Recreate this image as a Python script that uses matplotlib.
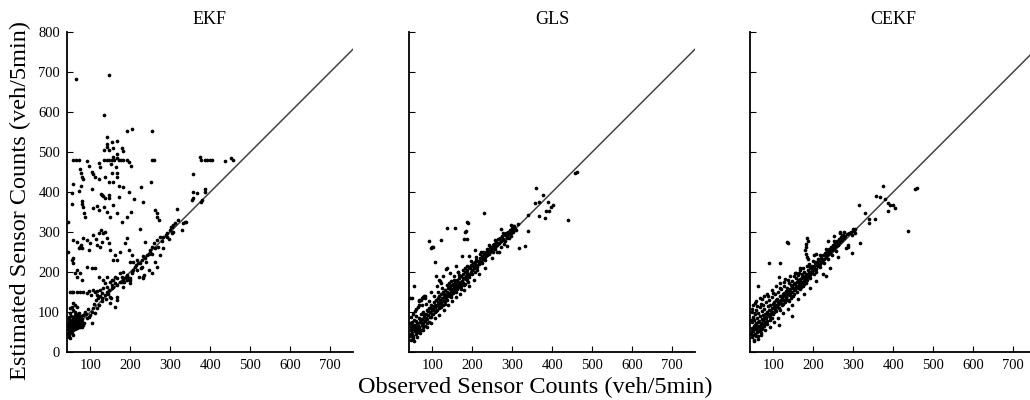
import numpy as np
import matplotlib
matplotlib.use("Agg")
import matplotlib.pyplot as plt

plt.rcParams['font.family'] = ['Liberation Serif', 'DejaVu Serif']

# (observed, estimated) pairs
ekf_pts = [
    (64, 682), (146, 692), (135, 592), (192, 553), (204, 557), (254, 553),
    (143, 537), (167, 528), (154, 524), (143, 520), (142, 513), (135, 505),
    (146, 505), (158, 509), (179, 509), (183, 503), (58, 480), (64, 480),
    (71, 480), (135, 480), (142, 480), (147, 480), (154, 480), (160, 480),
    (171, 480), (177, 480), (183, 480), (192, 480), (254, 480), (260, 480),
    (377, 480), (387, 480), (393, 480), (400, 480), (404, 480), (437, 478),
    (375, 487), (452, 485), (458, 480), (93, 478), (96, 465), (121, 473),
    (125, 463), (152, 470), (165, 463), (196, 476), (202, 465), (168, 484),
    (168, 494), (157, 488), (75, 457), (77, 447), (79, 438), (81, 432),
    (104, 451), (108, 445), (112, 438), (121, 432), (137, 438), (154, 447),
    (168, 448), (168, 438), (157, 426), (146, 426), (171, 415), (183, 412),
    (227, 413), (252, 426), (198, 401), (56, 420), (54, 398), (77, 415),
    (73, 403), (104, 407), (128, 395), (132, 390), (146, 384), (356, 445),
    (358, 401), (367, 397), (387, 407), (54, 370), (79, 370), (79, 378),
    (82, 363), (88, 338), (85, 347), (117, 365), (121, 355), (108, 359),
    (129, 392), (137, 384), (135, 363), (142, 351), (150, 338), (167, 347),
    (158, 367), (171, 388), (146, 392), (179, 326), (192, 338), (202, 351),
    (210, 382), (233, 376), (225, 307), (262, 355), (267, 347), (268, 338),
    (271, 330), (317, 357), (337, 326), (329, 305), (308, 318), (45, 326),
    (45, 251), (58, 280), (67, 276), (75, 263), (71, 259), (79, 259),
    (77, 267), (83, 284), (92, 280), (100, 272), (96, 255), (108, 292),
    (115, 282), (117, 267), (125, 263), (129, 276), (121, 297), (127, 305),
    (132, 297), (137, 301), (142, 284), (146, 272), (150, 255), (158, 230),
    (162, 242), (175, 251), (187, 272), (192, 284), (196, 255), (200, 226),
    (204, 242), (208, 226), (217, 230), (229, 212), (237, 276), (250, 251),
    (246, 205), (254, 197), (262, 226), (267, 213), (275, 242), (283, 259),
    (293, 287), (308, 301), (333, 323), (54, 230), (57, 222), (58, 234),
    (67, 205), (62, 197), (75, 197), (79, 180), (68, 188), (92, 213),
    (104, 209), (112, 209), (121, 188), (133, 180), (142, 188), (154, 180),
    (162, 188), (175, 197), (183, 201), (192, 192), (200, 184), (204, 201),
    (50, 150), (54, 150), (58, 150), (67, 150), (75, 150), (83, 150),
    (92, 147), (98, 153), (102, 142), (108, 155), (117, 142), (125, 155),
    (129, 147), (133, 159), (137, 172), (142, 163), (150, 176), (154, 167),
    (158, 180), (162, 172), (168, 184), (175, 176), (179, 188), (183, 180),
    (187, 184), (192, 190), (200, 180), (204, 197), (212, 213), (217, 205),
    (225, 222), (229, 230), (237, 234), (242, 242), (250, 255), (254, 263),
    (260, 272), (267, 280), (275, 288), (283, 288), (292, 297), (300, 305),
    (304, 313), (304, 297), (312, 322), (354, 380), (358, 384), (377, 376),
    (379, 380), (387, 401), (150, 138), (158, 163), (168, 138), (183, 163),
    (200, 172), (221, 188), (233, 188), (168, 230), (152, 134), (129, 134),
    (137, 142), (143, 151), (154, 159), (167, 167), (179, 176), (192, 180),
    (150, 122), (162, 113), (167, 130), (43, 63), (46, 51), (48, 42),
    (50, 34), (54, 47), (58, 63), (62, 72), (67, 59), (71, 67), (75, 63),
    (79, 76), (83, 67), (68, 80), (58, 88), (50, 97), (54, 80), (65, 87),
    (75, 84), (46, 76), (50, 63), (58, 55), (67, 72), (73, 80), (79, 63),
    (85, 73), (50, 109), (54, 113), (58, 122), (62, 117), (92, 84), (96, 88),
    (100, 92), (104, 101), (108, 109), (112, 97), (117, 109), (121, 117),
    (104, 72), (58, 105), (62, 92), (70, 90), (77, 70), (64, 65), (52, 70),
    (60, 78), (72, 62), (48, 88), (56, 42), (66, 95), (82, 92), (88, 98),
    (110, 120), (115, 130), (120, 135), (125, 140), (130, 128), (112, 150),
    (116, 152), (140, 132), (145, 146), (148, 155), (185, 176), (195, 185),
    (208, 205), (214, 218), (220, 222), (226, 210), (231, 240), (240, 226),
    (246, 246), (255, 245), (262, 260), (270, 262), (280, 278), (290, 293),
    (296, 282), (302, 312), (320, 330), (340, 325), (235, 192), (231, 186),
    (44, 70), (45, 58), (47, 82), (49, 66), (51, 55), (53, 90), (55, 72),
    (57, 60), (59, 84), (61, 68), (63, 58), (65, 76), (67, 88), (69, 64),
    (71, 78), (73, 70), (76, 90), (78, 68), (80, 82), (62, 80), (56, 66),
    (66, 70), (70, 84), (74, 74), (52, 78), (60, 72), (44, 45), (47, 38),
    (63, 100), (72, 98), (68, 112), (86, 100), (90, 95), (94, 108),
]

gls_pts = [
    (456, 448), (462, 451), (360, 409), (377, 392), (356, 373), (368, 374),
    (389, 376), (402, 367), (397, 362), (385, 353), (391, 353), (368, 340),
    (382, 334), (439, 330), (339, 342), (339, 303), (332, 265), (318, 259),
    (271, 307), (302, 315), (306, 307), (229, 348), (156, 311), (137, 309),
    (187, 326), (189, 322), (185, 303), (181, 299), (187, 282), (179, 282),
    (121, 280), (91, 277), (97, 259), (100, 262), (175, 241), (192, 240),
    (206, 255), (106, 226), (137, 209), (164, 201), (110, 190), (118, 180),
    (122, 173), (54, 166), (49, 136), (81, 140), (66, 130), (77, 137),
    (74, 136), (79, 141), (66, 128), (45, 134), (102, 263), (135, 207),
    (45, 40), (47, 55), (48, 70), (50, 48), (52, 62), (53, 35), (55, 80),
    (56, 52), (58, 66), (60, 45), (60, 90), (62, 58), (63, 72), (65, 50),
    (66, 85), (68, 62), (70, 75), (71, 95), (72, 55), (74, 68), (75, 82),
    (77, 100), (78, 72), (80, 88), (82, 65), (83, 78), (85, 95), (86, 105),
    (88, 82), (90, 92), (92, 110), (93, 75), (95, 100), (97, 88), (98, 118),
    (100, 105), (102, 95), (104, 115), (105, 125), (107, 100), (108, 112),
    (110, 130), (112, 118), (113, 105), (115, 125), (117, 140), (118, 115),
    (120, 130), (122, 122), (123, 145), (125, 135), (127, 118), (128, 150),
    (130, 138), (132, 128), (133, 155), (135, 142), (137, 130), (138, 150),
    (140, 160), (142, 140), (143, 148), (145, 165), (147, 150), (148, 138),
    (150, 158), (152, 170), (153, 148), (155, 162), (157, 175), (158, 155),
    (160, 168), (162, 158), (163, 180), (165, 170), (167, 162), (168, 185),
    (170, 175), (172, 165), (173, 190), (175, 178), (177, 172), (178, 195),
    (180, 185), (182, 170), (183, 200), (185, 190), (187, 180), (188, 205),
    (190, 195), (192, 188), (195, 210), (197, 200), (200, 205), (202, 215),
    (205, 210), (207, 225), (210, 218), (212, 212), (215, 228), (218, 222),
    (220, 235), (222, 228), (225, 240), (228, 232), (230, 245), (233, 238),
    (235, 250), (238, 242), (240, 255), (243, 248), (245, 262), (248, 255),
    (250, 260), (252, 250), (255, 270), (258, 262), (260, 275), (263, 268),
    (265, 282), (268, 272), (270, 285), (272, 278), (275, 290), (278, 282),
    (280, 270), (283, 292), (285, 298), (288, 290), (290, 300), (293, 285),
    (295, 305), (298, 298), (300, 310), (302, 300), (305, 315), (310, 305),
    (315, 320), (46, 62), (47, 45), (49, 58), (50, 75), (51, 40), (54, 68),
    (57, 58), (59, 78), (61, 50), (64, 65), (67, 58), (69, 82), (73, 78),
    (76, 62), (79, 92), (84, 86), (87, 72), (89, 102), (94, 88), (96, 110),
    (99, 95), (103, 108), (106, 118), (109, 102), (114, 135), (116, 110),
    (119, 120), (121, 112), (126, 128), (129, 145), (131, 120), (134, 136),
    (139, 145), (141, 172), (144, 158), (146, 142), (149, 168), (151, 150),
    (154, 180), (156, 165), (159, 150), (161, 178), (164, 164), (166, 192),
    (169, 170), (171, 158), (176, 185), (179, 168), (181, 210), (184, 182),
    (186, 198), (189, 176), (191, 212), (194, 196), (196, 218), (199, 195),
    (203, 222), (206, 200), (209, 230), (213, 205), (216, 220), (219, 245),
    (224, 222), (227, 250), (232, 230), (236, 258), (241, 245), (246, 252),
    (251, 268), (256, 258), (261, 250), (266, 272), (271, 262), (276, 280),
    (282, 278), (287, 285), (292, 295), (297, 290), (301, 302), (304, 308),
    (44, 72), (46, 88), (48, 30), (52, 95), (55, 28), (58, 102), (62, 38),
    (65, 112), (70, 48), (74, 118), (78, 55), (84, 120), (88, 62), (93, 128),
    (98, 72), (104, 140), (108, 85), (114, 150), (118, 92), (124, 160),
    (130, 105), (136, 168), (140, 118), (146, 178), (150, 128), (155, 190),
    (160, 138), (165, 200), (170, 145), (176, 205), (180, 155), (186, 215),
    (192, 165), (198, 228), (204, 180), (210, 238), (216, 195), (222, 250),
    (232, 210), (242, 268), (250, 235), (258, 280), (268, 250), (276, 298),
    (286, 265), (296, 318), (60, 108), (68, 118), (72, 130), (82, 135),
    (96, 150), (112, 165), (120, 178), (128, 190), (145, 198), (160, 215),
]

cekf_pts = [
    (454, 407), (460, 411), (375, 415), (358, 390), (367, 388), (379, 382),
    (387, 373), (393, 367), (400, 367), (404, 359), (387, 353), (315, 367),
    (329, 347), (340, 332), (354, 332), (340, 323), (438, 302), (317, 273),
    (300, 307), (304, 297), (296, 292), (185, 286), (186, 278), (183, 270),
    (182, 263), (179, 255), (135, 276), (136, 272), (90, 223), (118, 222),
    (62, 166), (114, 188), (167, 209), (158, 198), (252, 291), (237, 278),
    (268, 297), (269, 280), (283, 259), (288, 263), (296, 248), (232, 190),
    (202, 243), (208, 245), (204, 226), (192, 213), (171, 188), (146, 90),
    (114, 68), (54, 122), (73, 132), (48, 101), (181, 245), (184, 238),
    (186, 232), (268, 300), (272, 290), (301, 305), (303, 302), (305, 308),
    (45, 45), (46, 60), (47, 75), (48, 38), (49, 88), (50, 52), (51, 66),
    (52, 30), (53, 80), (54, 95), (55, 45), (56, 58), (57, 72), (58, 105),
    (59, 50), (60, 85), (61, 65), (62, 40), (63, 98), (64, 55), (65, 78),
    (66, 112), (67, 62), (68, 90), (69, 48), (70, 72), (71, 102), (72, 82),
    (73, 60), (74, 118), (75, 92), (76, 70), (77, 85), (78, 108), (79, 75),
    (80, 95), (82, 125), (83, 88), (84, 100), (85, 78), (86, 115), (88, 95),
    (89, 130), (90, 105), (92, 88), (93, 118), (95, 102), (96, 138), (98, 110),
    (100, 95), (101, 125), (103, 112), (104, 145), (106, 118), (108, 102),
    (109, 132), (111, 120), (112, 150), (114, 110), (115, 128), (117, 140),
    (118, 122), (120, 158), (121, 135), (123, 118), (124, 145), (126, 130),
    (127, 165), (129, 140), (130, 125), (132, 152), (133, 138), (135, 160),
    (136, 130), (138, 148), (139, 172), (141, 142), (142, 158), (144, 135),
    (145, 168), (147, 150), (148, 178), (150, 160), (151, 145), (153, 170),
    (154, 155), (156, 185), (157, 165), (159, 150), (160, 175), (162, 160),
    (163, 192), (165, 172), (166, 158), (168, 182), (169, 168), (171, 195),
    (172, 175), (174, 165), (175, 188), (177, 178), (178, 200), (180, 185),
    (181, 172), (183, 195), (184, 180), (186, 205), (188, 190), (190, 200),
    (192, 185), (194, 210), (196, 198), (198, 215), (200, 205), (202, 195),
    (205, 218), (207, 208), (210, 225), (212, 215), (215, 228), (218, 220),
    (220, 235), (222, 228), (225, 242), (228, 232), (230, 248), (233, 240),
    (235, 252), (238, 245), (240, 258), (243, 250), (245, 262), (248, 255),
    (250, 268), (253, 260), (255, 272), (258, 265), (260, 278), (263, 270),
    (265, 282), (268, 275), (270, 288), (273, 280), (275, 292), (278, 285),
    (280, 290), (285, 295), (290, 298), (295, 300), (47, 52), (49, 42),
    (52, 58), (55, 68), (57, 40), (60, 62), (63, 75), (66, 52), (69, 68),
    (72, 58), (75, 80), (78, 65), (81, 85), (84, 70), (87, 95), (91, 80),
    (94, 95), (97, 85), (99, 120), (102, 100), (105, 108), (107, 130),
    (110, 112), (113, 125), (116, 105), (119, 130), (122, 140), (125, 120),
    (128, 148), (131, 132), (134, 145), (137, 155), (140, 128), (143, 150),
    (146, 162), (149, 140), (152, 158), (155, 172), (158, 162), (161, 180),
    (164, 168), (167, 178), (170, 162), (173, 185), (176, 170), (179, 190),
    (182, 178), (185, 188), (189, 198), (193, 192), (197, 205), (201, 212),
    (206, 200), (211, 218), (216, 212), (221, 225), (226, 222), (231, 238),
    (236, 232), (241, 248), (246, 242), (251, 258), (256, 252), (261, 268),
    (44, 80), (46, 108), (50, 118), (53, 28), (58, 128), (61, 32), (66, 135),
    (70, 42), (76, 140), (80, 55), (85, 145), (92, 62), (97, 155), (102, 75),
    (108, 165), (112, 85), (118, 172), (124, 98), (130, 182), (136, 108),
    (142, 190), (148, 118), (155, 198), (162, 132), (168, 205), (176, 145),
    (184, 215), (192, 160), (200, 228), (208, 178), (216, 242), (224, 195),
    (232, 258), (242, 210), (252, 278), (262, 238), (276, 300), (286, 268),
    (60, 115), (70, 120), (88, 140), (100, 148), (116, 160), (126, 175),
    (138, 180), (152, 190), (164, 198), (174, 210), (190, 220), (212, 232),
]

panel_titles = ["EKF", "GLS", "CEKF"]
panel_data = [ekf_pts, gls_pts, cekf_pts]
x_ticks = [100, 200, 300, 400, 500, 600, 700]
y_ticks = [0, 100, 200, 300, 400, 500, 600, 700, 800]

fig = plt.figure(figsize=(10.3, 4.0), dpi=100)
lefts = [67, 409, 750]

for i, (title, pts) in enumerate(zip(panel_titles, panel_data)):
    ax = fig.add_axes([lefts[i] / 1030, 48 / 400, 286 / 1030, 320 / 400])
    obs, est = np.array(pts).T
    ax.plot([0, 800], [0, 800], color='#444444', lw=1.1, zorder=1)
    ax.scatter(obs, est, s=7, color='black', linewidths=0, zorder=2)
    ax.set_xlim(42, 757)
    ax.set_ylim(0, 800)
    ax.set_xticks(x_ticks)
    ax.set_yticks(y_ticks)
    for side in ['top', 'right']:
        ax.spines[side].set_visible(False)
    for side in ['left', 'bottom']:
        ax.spines[side].set_linewidth(1.3)
    ax.tick_params(direction='in', length=4, width=0.8, labelsize=10.5, pad=5)
    if i > 0:
        ax.tick_params(labelleft=False)
    ax.set_title(title, fontsize=13, pad=6)

fig.text(20 / 1030, 0.5, "Estimated Sensor Counts (veh/5min)", rotation=90,
         ha='center', va='center', fontsize=17.5)
fig.text(535 / 1030, 13 / 400, "Observed Sensor Counts (veh/5min)",
         ha='center', va='center', fontsize=17.5)

fig.savefig("out.png", dpi=100)
